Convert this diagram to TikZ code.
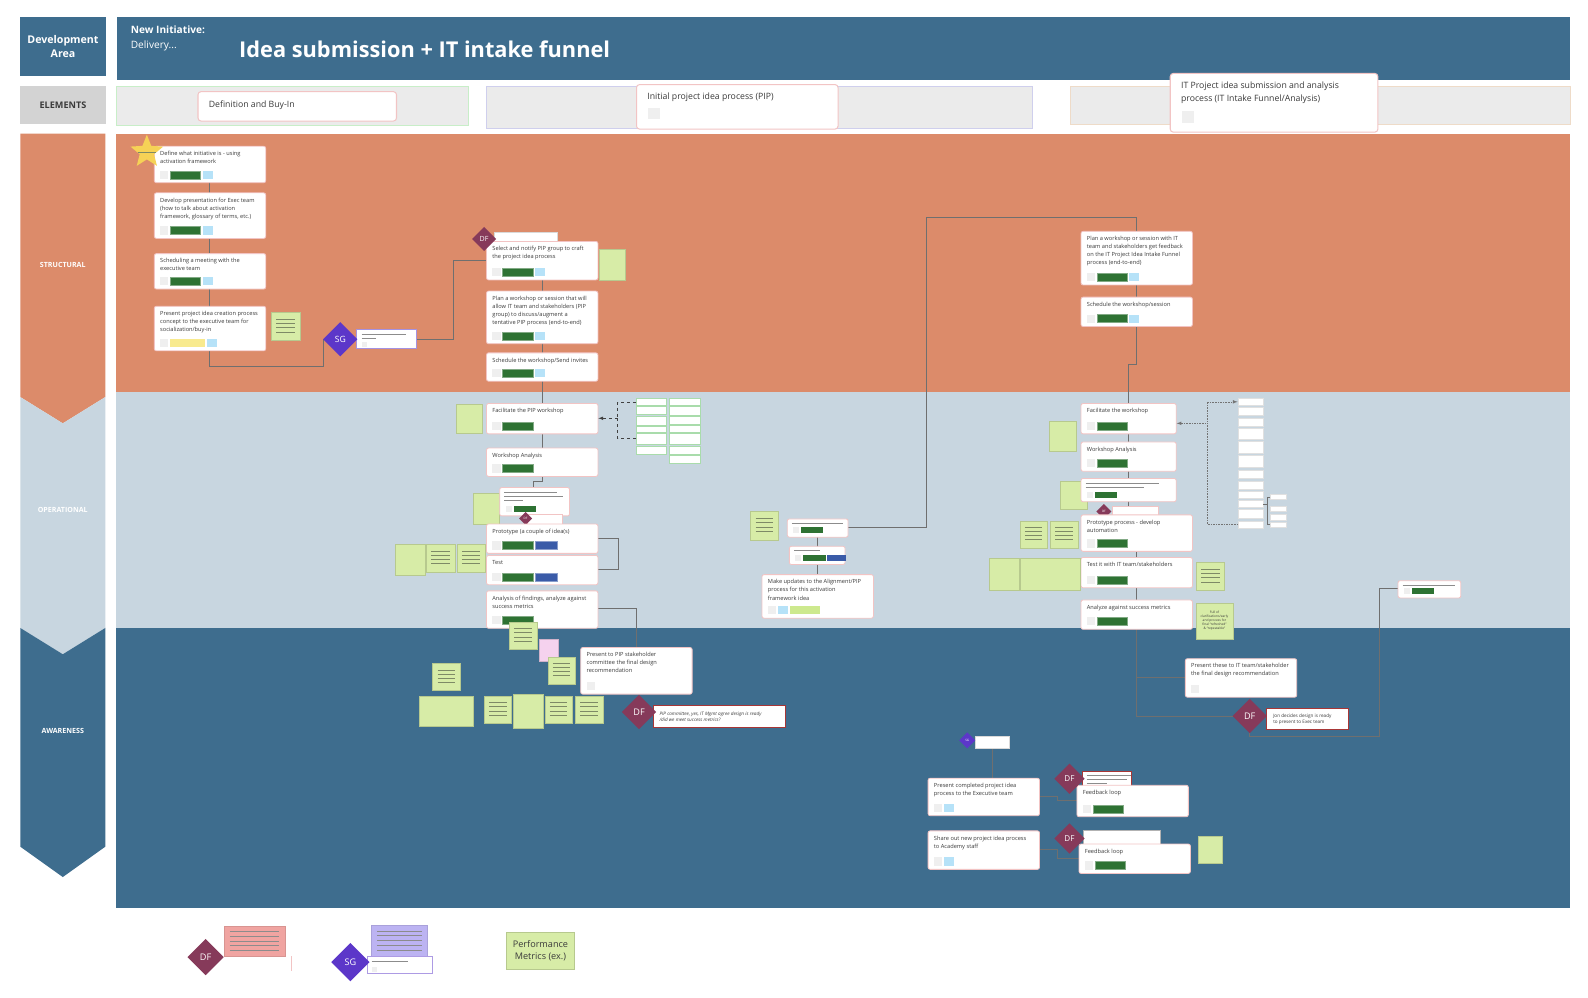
\documentclass[tikz,border=0pt]{standalone}
\usepackage{fontspec}
\setmainfont{Open Sans}
\usetikzlibrary{positioning,shapes.geometric,calc}

\definecolor{LaneBlue}{HTML}{3E6D8E}
\definecolor{LaneOrange}{HTML}{DC8B6A}
\definecolor{LaneMist}{HTML}{C8D6E0}
\definecolor{HeadGray}{HTML}{D3D3D3}
\definecolor{StripGray}{HTML}{EBEBEB}
\definecolor{CardEdge}{HTML}{F2C4C4}
\definecolor{CardInk}{HTML}{3A3A3A}
\definecolor{TagGray}{HTML}{EFEFEF}
\definecolor{TagGreen}{HTML}{2E7233}
\definecolor{TagSky}{HTML}{B6E2F8}
\definecolor{TagNavy}{HTML}{3A5BA8}
\definecolor{TagYellow}{HTML}{F8EA8E}
\definecolor{TagLime}{HTML}{CDE98E}
\definecolor{NoteGreen}{HTML}{D7ECA7}
\definecolor{NoteInk}{HTML}{7E8A66}
\definecolor{NotePink}{HTML}{F5D2EE}
\definecolor{NoteRed}{HTML}{F0A4A1}
\definecolor{NoteLilac}{HTML}{BCB3F2}
\definecolor{DFMaroon}{HTML}{863A5A}
\definecolor{DFRed}{HTML}{A83636}
\definecolor{SGPurple}{HTML}{5C37C9}
\definecolor{StarYellow}{HTML}{F6D256}
\definecolor{LinkGray}{HTML}{6F6F6F}
\definecolor{CellEdge}{HTML}{A9DCAB}

\tikzset{
  headbox/.style={anchor=north west, inner sep=0pt, align=center},
  strip/.style={anchor=north west, inner sep=0pt, fill=StripGray, line width=0.6pt},
  ecard/.style={anchor=north west, inner sep=0pt, fill=white, draw=CardEdge, line width=1pt, rounded corners=3pt},
  etext/.style={inner sep=0pt, font=\fontsize{8.6}{12}\selectfont, text=CardInk, align=left},
  lanelabel/.style={text=white, font=\fontsize{7}{8}\selectfont\bfseries},
  card/.style={draw=CardEdge, fill=white, rounded corners=2pt, line width=0.8pt, anchor=north west, inner sep=0pt},
  cardtext/.style={anchor=north west, inner sep=0pt, font=\fontsize{5.6}{8}\selectfont, text=CardInk, align=left},
  cardline/.style={draw=black!45, line width=0.9pt},
  tab/.style={anchor=north west, inner sep=0pt, fill=white, draw=black!15, line width=0.6pt},
  tgray/.style={fill=TagGray, minimum width=8pt, minimum height=8pt, inner sep=0pt},
  tgreen/.style={fill=TagGreen, draw=TagGreen!60!white, line width=0.4pt, minimum width=30pt, minimum height=8pt, inner sep=0pt},
  tsky/.style={fill=TagSky, minimum width=10pt, minimum height=8pt, inner sep=0pt},
  tnavy/.style={fill=TagNavy, draw=TagNavy!60!white, line width=0.4pt, minimum width=22pt, minimum height=8pt, inner sep=0pt},
  tyellow/.style={fill=TagYellow, minimum width=34pt, minimum height=8pt, inner sep=0pt},
  tlime/.style={fill=TagLime, minimum width=30pt, minimum height=8pt, inner sep=0pt},
  sgray/.style={fill=TagGray, minimum width=6pt, minimum height=6pt, inner sep=0pt},
  sgreen/.style={fill=TagGreen, minimum width=22pt, minimum height=6pt, inner sep=0pt},
  snavy/.style={fill=TagNavy, minimum width=18pt, minimum height=6pt, inner sep=0pt},
  note/.style={fill=NoteGreen, draw=NoteGreen!85!black, line width=0.3pt, anchor=north west, inner sep=0pt},
  noteline/.style={draw=NoteInk, line width=0.9pt},
  link/.style={draw=LinkGray, line width=0.6pt},
  dashlink/.style={draw=black!75, line width=0.6pt, dashed},
  dotlink/.style={draw=black!55, line width=0.6pt, densely dotted},
  cell/.style={draw=CellEdge, fill=white, anchor=north west, inner sep=0pt, line width=0.5pt},
  dfmark/.style={diamond, aspect=1, fill=DFMaroon, text=white, inner sep=0pt, font=\fontsize{9}{9}\selectfont},
  sgmark/.style={diamond, aspect=1, fill=SGPurple, text=white, inner sep=0pt, font=\fontsize{8.5}{9}\selectfont},
}

% card with its text in the upper left corner
\newcommand{\card}[6]{%
  \node[card, minimum width=#4pt, minimum height=#5pt] (#1) at (#2,#3) {};
  \node[cardtext] (#1-txt) at ([xshift=6pt,yshift=-5pt]#1.north west) {#6};
}
% row of small coloured tags at the foot of a card
\newcommand{\cardtags}[2]{%
  \foreach \tagstyle [count=\k] in {#2} {%
    \ifnum\k=1
      \node[\tagstyle, anchor=south west] (#1-t1) at ([xshift=6pt,yshift=4pt]#1.south west) {};
    \else
      \pgfmathtruncatemacro{\prevtag}{\k-1}
      \node[\tagstyle, right=1.5pt of #1-t\prevtag] (#1-t\k) {};
    \fi
  }%
}
% grey placeholder strokes instead of text
\newcommand{\cardlines}[2]{%
  \foreach \len [count=\k] in {#2}
    \draw[cardline] ([xshift=5pt,yshift={-(1+4*\k)*1pt}]#1.north west) -- ++(\len,0);
}
\newcommand{\plainnote}[5]{%
  \node[note, minimum width=#4pt, minimum height=#5pt] (#1) at (#2,#3) {};
}
\newcommand{\linednote}[5]{%
  \node[note, minimum width=#4pt, minimum height=#5pt] (#1) at (#2,#3) {};
  \foreach \f in {0.25,0.4,0.55,0.7}
    \draw[noteline] ($(#1.north west)!\f!(#1.south west)+(5,0)$) -- ($(#1.north east)!\f!(#1.south east)+(-5,0)$);
}

\begin{document}
\begin{tikzpicture}[x=1pt,y=-1pt]
  \useasboundingbox[fill=white] (0,0) rectangle (1568,985);

  % header
  \node[headbox, fill=LaneBlue, text=white, minimum width=84pt, minimum height=58pt,
    font=\fontsize{10.5}{13.5}\selectfont\bfseries] (devarea) at (20,17) {Development\\Area};
  \node[headbox, fill=LaneBlue, minimum width=1435pt, minimum height=62pt] (titlebar) at (115,17) {};
  \node[anchor=north west, inner sep=0pt, text=white, align=left,
    font=\fontsize{10}{15}\selectfont] (initiative) at (129,25) {\textbf{New Initiative:}\\Delivery...};
  \node[anchor=west, inner sep=0pt, text=white, font=\fontsize{21.5}{24}\selectfont\bfseries]
    (maintitle) at (236,49) {Idea submission + IT intake funnel};

  \node[headbox, fill=HeadGray, text=CardInk, minimum width=84pt, minimum height=37pt,
    font=\fontsize{9}{10}\selectfont\bfseries] (elements) at (20,85) {ELEMENTS};
  \node[strip, draw=green!15!StripGray, minimum width=347pt, minimum height=38pt] (strip1) at (115,85) {};
  \node[strip, draw=blue!12!StripGray, minimum width=539pt, minimum height=41pt] (strip2) at (480,85) {};
  \node[strip, draw=orange!15!StripGray, minimum width=493pt, minimum height=37pt] (strip3) at (1057,85) {};

  \node[ecard, minimum width=196pt, minimum height=29pt] (phase1) at (195,90) {};
  \node[etext, anchor=west] at (206,104) {Definition and Buy-In};
  \node[ecard, minimum width=199pt, minimum height=44pt] (phase2) at (628,83) {};
  \node[etext, anchor=north west] at (639,92) {Initial project idea process (PIP)};
  \node[tgray, anchor=north west, minimum width=11pt, minimum height=11pt] at (640,106) {};
  \node[ecard, minimum width=205pt, minimum height=58pt] (phase3) at (1155,72) {};
  \node[etext, anchor=north west] at (1166,81) {IT Project idea submission and analysis\\process (IT Intake Funnel/Analysis)};
  \node[tgray, anchor=north west, minimum width=12pt, minimum height=12pt] at (1167,109) {};

  % lanes
  \fill[LaneOrange] (115,132) rectangle (1550,387);
  \fill[LaneMist] (115,387) rectangle (1550,620);
  \fill[LaneBlue] (115,620) rectangle (1550,897);
  \fill[LaneOrange] (20,132) -- (104,132) -- (104,392) -- (62,418) -- (20,392) -- cycle;
  \fill[LaneMist] (20,392) -- (62,418) -- (104,392) -- (104,620) -- (62,646) -- (20,620) -- cycle;
  \fill[LaneBlue] (20,620) -- (62,646) -- (104,620) -- (104,836) -- (62,866) -- (20,836) -- cycle;
  \node[lanelabel] (structural) at (62,262) {STRUCTURAL};
  \node[lanelabel] (operational) at (62,504) {OPERATIONAL};
  \node[lanelabel] (awareness) at (62,722) {AWARENESS};

  % connectors first, so the cards sit on top of them
  \draw[link] (207,180) -- (207,362) -| (319,335);
  \draw[link] (411,335) -- (448,335) |- (480,257);
  \draw[link] (535,276) -- (535,475) -| (527,481);
  \draw[link] (535,509) -- (535,517);
  \draw[link] (590,532) -- (611,532) |- (590,562);
  \draw[link] (590,601) -| (628,639);
  \draw[link] (807,530) -- (807,567);
  \draw[link] (837,521) -| (915,215) -| (1122,228);
  \draw[link] (1122,281) -- (1122,360) -| (1114,398);
  \draw[link] (1114,428) -- (1114,500) -| (1122,508);
  \draw[link] (1122,544) -- (1122,592);
  \draw[link] (1122,621) |- (1170,669);
  \draw[link] (1122,621) |- (1217,707);
  \draw[link] (1234,724) -- (1234,727) -| (1362,650) |- (1380,581);
  \draw[link] (980,739) -- (980,768);
  \draw[link] (1026,786) -- (1044,786) |- (1063,790);
  \draw[link] (1026,839) -- (1044,839) |- (1065,847);

  % definition and buy-in
  \card{c1}{152}{144}{110}{36}{Define what initiative is - using\\activation framework}
  \cardtags{c1}{tgray,tgreen,tsky}
  \node[star, star points=5, star point ratio=2.3, fill=StarYellow, minimum size=34pt, inner sep=0pt] (star) at (145,150) {};
  \draw[noteline] ([xshift=-9pt,yshift=-1pt]star.center) -- ([xshift=9pt,yshift=-1pt]star.center);
  \card{c2}{152}{190}{110}{45}{Develop presentation for Exec team\\(how to talk about activation\\framework, glossary of terms, etc.)}
  \cardtags{c2}{tgray,tgreen,tsky}
  \card{c3}{152}{250}{110}{35}{Scheduling a meeting with the\\executive team}
  \cardtags{c3}{tgray,tgreen,tsky}
  \card{c4}{152}{302}{110}{44}{Present project idea creation process\\concept to the executive team for\\socialization/buy-in}
  \cardtags{c4}{tgray,tyellow,tsky}
  \linednote{n1}{268}{308}{28}{28}

  \node[tab, draw=SGPurple!55, minimum width=59pt, minimum height=19pt] (sgcard) at (352,325) {};
  \cardlines{sgcard}{44,14}
  \node[tgray, anchor=south west, minimum width=5pt, minimum height=5pt] at ([xshift=5pt,yshift=2pt]sgcard.south west) {};
  \node[sgmark, minimum size=34pt] (sg1) at (336,335) {SG};

  % initial project idea process
  \node[tab, minimum width=62pt, minimum height=12pt] (dftabA) at (488,229) {};
  \card{c5}{480}{238}{110}{38}{Select and notify PIP group to craft\\the project idea process}
  \cardtags{c5}{tgray,tgreen,tsky}
  \node[dfmark, minimum size=24pt, font=\fontsize{7}{7}\selectfont] (dfA) at (478,236) {DF};
  \plainnote{n2}{591}{246}{26}{30}
  \card{c6}{480}{287}{110}{52}{Plan a workshop or session that will\\allow IT team and stakeholders (PIP\\group) to discuss/augment a\\tentative PIP process (end-to-end)}
  \cardtags{c6}{tgray,tgreen,tsky}
  \card{c7}{480}{348}{110}{28}{Schedule the workshop/Send invites}
  \cardtags{c7}{tgray,tgreen,tsky}
  \card{c8}{480}{398}{110}{30}{Facilitate the PIP workshop}
  \cardtags{c8}{tgray,tgreen}
  \plainnote{n3}{450}{399}{26}{29}
  \card{c9}{480}{442}{110}{28}{Workshop Analysis}
  \cardtags{c9}{tgray,tgreen}
  \plainnote{n4}{467}{487}{26}{30}
  \node[card, minimum width=69pt, minimum height=28pt] (c10) at (493,481) {};
  \cardlines{c10}{52,58,18}
  \cardtags{c10}{sgray,sgreen}
  \node[tab, draw=CardEdge, minimum width=35pt, minimum height=9pt] (dftabB) at (520,508) {};
  \node[dfmark, minimum size=13pt, font=\fontsize{3}{3}\selectfont] (dfB) at (519,512) {DF};
  \card{c11}{480}{517}{110}{29}{Prototype (a couple of idea(s)}
  \cardtags{c11}{tgray,tgreen,tnavy}
  \card{c12}{480}{548}{110}{29}{Test}
  \cardtags{c12}{tgray,tgreen,tnavy}
  \plainnote{n5}{390}{537}{30}{31}
  \linednote{n6}{421}{537}{28}{28}
  \linednote{n7}{451}{537}{28}{28}
  \card{c13}{480}{583}{110}{37}{Analysis of findings, analyze against\\success metrics}
  \cardtags{c13}{tgray,tgreen}

  % workshop matrix
  \foreach \top/\h [count=\k] in {393/7,401/8,411/9,421/6,428/10,440/8}
    \node[cell, minimum width=30pt, minimum height=\h pt] (pa\k) at (628,\top) {};
  \foreach \top/\h [count=\k] in {393/7,401/9,411/8,420/7,428/10,440/8,449/8}
    \node[cell, minimum width=30pt, minimum height=\h pt] (pb\k) at (661,\top) {};
  \coordinate (pj) at (610,413);
  \draw[dashlink] (pa1.west) -| (pj);
  \draw[dashlink] (pa5.west) -| (pj);
  \draw[dashlink, -latex] (pj) -- (c8.east |- pj);

  % awareness, PIP side
  \linednote{n8}{503}{614}{27}{27}
  \node[note, fill=NotePink, draw=NotePink!85!black, minimum width=19pt, minimum height=22pt] (n9) at (532,631) {};
  \linednote{n10}{541}{649}{27}{26}
  \linednote{n11}{427}{655}{27}{26}
  \plainnote{n12}{414}{687}{53}{30}
  \linednote{n13}{478}{687}{27}{27}
  \plainnote{n14}{507}{685}{29}{34}
  \linednote{n15}{538}{687}{27}{27}
  \linednote{n16}{568}{687}{27}{27}
  \card{c14}{573}{639}{110}{46}{Present to PIP stakeholder\\committee the final design\\recommendation}
  \cardtags{c14}{tgray}
  \node[tab, draw=DFRed, line width=0.9pt, minimum width=130pt, minimum height=22pt] (dfnote1) at (645,696) {};
  \node[cardtext, font=\fontsize{4.6}{6.2}\selectfont\itshape, anchor=west] at ([xshift=6pt]dfnote1.west) {PIP committee, yes, IT Mgmt agree design is ready\\/did we meet success metrics?};
  \node[dfmark, minimum size=34pt] (df1) at (631,703) {DF};

  % alignment updates
  \linednote{n17}{741}{505}{27}{28}
  \node[card, minimum width=60pt, minimum height=18pt] (m1) at (777,512) {};
  \cardlines{m1}{50}
  \cardtags{m1}{sgray,sgreen}
  \node[card, minimum width=55pt, minimum height=18pt] (m2) at (779,539) {};
  \cardlines{m2}{26}
  \cardtags{m2}{sgray,sgreen,snavy}
  \card{m3}{752}{567}{110}{43}{Make updates to the Alignment/PIP\\process for this activation\\framework idea}
  \cardtags{m3}{tgray,tsky,tlime}

  % IT intake funnel
  \card{r1}{1067}{228}{110}{53}{Plan a workshop or session with IT\\team and stakeholders get feedback\\on the IT Project Idea Intake Funnel\\process (end-to-end)}
  \cardtags{r1}{tgray,tgreen,tsky}
  \card{r2}{1067}{293}{110}{29}{Schedule the workshop/session}
  \cardtags{r2}{tgray,tgreen,tsky}
  \card{r3}{1067}{398}{94}{30}{Facilitate the workshop}
  \cardtags{r3}{tgray,tgreen}
  \plainnote{n18}{1036}{416}{26}{29}
  \card{r4}{1067}{436}{94}{29}{Workshop Analysis}
  \cardtags{r4}{tgray,tgreen}
  \plainnote{n19}{1047}{475}{26}{28}
  \node[card, minimum width=94pt, minimum height=23pt] (r5) at (1067,472) {};
  \cardlines{r5}{72,58}
  \cardtags{r5}{sgray,sgreen}
  \node[tab, draw=CardEdge, minimum width=45pt, minimum height=10pt] (dftabC) at (1098,500) {};
  \node[dfmark, minimum size=15pt, font=\fontsize{3}{3}\selectfont] (dfC) at (1090,505) {DF};
  \card{r6}{1067}{508}{110}{36}{Prototype process - develop\\automation}
  \cardtags{r6}{tgray,tgreen}
  \linednote{n20}{1007}{514}{27}{27}
  \linednote{n21}{1037}{514}{27}{27}
  \card{r7}{1067}{550}{110}{30}{Test it with IT team/stakeholders}
  \cardtags{r7}{tgray,tgreen}
  \plainnote{n22}{977}{551}{29}{32}
  \plainnote{n23}{1007}{551}{59}{32}
  \linednote{n24}{1181}{555}{28}{28}
  \card{r8}{1067}{592}{110}{29}{Analyze against success metrics}
  \cardtags{r8}{tgray,tgreen}
  \node[note, minimum width=36pt, minimum height=36pt, align=center, text=CardInk,
    font=\fontsize{3.2}{4}\selectfont] (n25) at (1181,595) {Full of\\clarifications/early\\and process for\\final ``refreshed''\\\& ``repeatable''};
  \card{r9}{1170}{650}{110}{38}{Present these to IT team/stakeholder\\the final design recommendation}
  \cardtags{r9}{tgray}
  \node[tab, draw=DFRed, line width=0.9pt, minimum width=81pt, minimum height=21pt] (dfnote2) at (1250,699) {};
  \node[cardtext, font=\fontsize{4.6}{6.2}\selectfont, anchor=west] at ([xshift=7pt]dfnote2.west) {Jon decides design is ready\\to present to Exec team};
  \node[dfmark, minimum size=34pt] (df2) at (1234,707) {DF};
  \node[card, minimum width=62pt, minimum height=17pt] (far) at (1380,573) {};
  \cardlines{far}{52}
  \cardtags{far}{sgray,sgreen}

  % intake matrix
  \foreach \top/\h [count=\k] in {393/7,402/8,413/8,423/10,435/12,449/12,464/8,475/8,485/7,494/7,503/8,514/7}
    \node[cell, draw=black!12, minimum width=25pt, minimum height=\h pt] (rb\k) at (1222,\top) {};
  \foreach \top [count=\k] in {488,500,508,515}
    \node[cell, draw=black!12, minimum width=16pt, minimum height=5pt] (rs\k) at (1254,\top) {};
  \coordinate (rj) at (1192,418);
  \draw[dotlink, -latex] (rj) |- (rb1.west);
  \draw[dotlink] (rb12.west) -| (rj);
  \draw[dotlink, -latex] (rj) -- (r3.east |- rj);
  \draw[link, line width=0.4pt] (rb10.east) -- ++(4,0) |- (rs1.west);
  \draw[link, line width=0.4pt] (rb10.east) -- ++(4,0) |- (rs4.west);

  % executive roll-out
  \node[tab, minimum width=33pt, minimum height=12pt] (sgtab3) at (963,727) {};
  \node[sgmark, minimum size=16pt, font=\fontsize{3}{3}\selectfont] (sg3) at (955,731) {SG};
  \card{a1}{916}{768}{110}{37}{Present completed project idea\\process to the Executive team}
  \cardtags{a1}{tgray,tsky}
  \card{a2}{916}{820}{110}{38}{Share out new project idea process\\to Academy staff}
  \cardtags{a2}{tgray,tsky}
  \node[tab, draw=DFRed, line width=0.9pt, minimum width=49pt, minimum height=15pt] (dfnote3) at (1068,761) {};
  \cardlines{dfnote3}{44,40,20}
  \card{f1}{1063}{775}{110}{31}{Feedback loop}
  \cardtags{f1}{tgray,tgreen}
  \node[dfmark, minimum size=30pt, font=\fontsize{8}{8}\selectfont] (df3) at (1056,769) {DF};
  \node[tab, draw=black!30, minimum width=76pt, minimum height=14pt] (dftab4) at (1069,820) {};
  \card{f2}{1065}{833}{110}{29}{Feedback loop}
  \cardtags{f2}{tgray,tgreen}
  \node[dfmark, minimum size=30pt, font=\fontsize{8}{8}\selectfont] (df4) at (1056,828) {DF};
  \plainnote{n26}{1183}{825}{24}{27}

  % legend
  \node[note, fill=NoteRed, draw=NoteRed!90!black, minimum width=60pt, minimum height=30pt] (legred) at (221,914) {};
  \foreach \f in {0.2,0.35,0.5,0.65,0.8}
    \draw[draw=black!45, line width=0.8pt] ($(legred.north west)!\f!(legred.south west)+(6,0)$) -- ($(legred.north east)!\f!(legred.south east)+(-6,0)$);
  \draw[draw=CardEdge, line width=0.8pt] ([xshift=6pt]legred.south east) -- ++(0,14);
  \node[dfmark, minimum size=36pt, font=\fontsize{9}{9}\selectfont] (legdf) at (203,945) {DF};
  \node[note, fill=NoteLilac, draw=NoteLilac!90!black, minimum width=56pt, minimum height=31pt] (leglilac) at (366,913) {};
  \foreach \f in {0.2,0.35,0.5,0.65,0.8}
    \draw[draw=black!45, line width=0.8pt] ($(leglilac.north west)!\f!(leglilac.south west)+(6,0)$) -- ($(leglilac.north east)!\f!(leglilac.south east)+(-6,0)$);
  \node[tab, draw=SGPurple!50, line width=0.8pt, minimum width=65pt, minimum height=17pt] (legcard) at (362,944) {};
  \cardlines{legcard}{36}
  \node[tgray, anchor=south west, minimum width=5pt, minimum height=5pt] at ([xshift=5pt,yshift=2pt]legcard.south west) {};
  \node[sgmark, minimum size=38pt, font=\fontsize{9}{9}\selectfont] (legsg) at (346,950) {SG};
  \node[note, minimum width=67pt, minimum height=37pt, align=center, text=CardInk,
    font=\fontsize{9}{11.5}\selectfont] (legperf) at (500,920) {Performance\\Metrics (ex.)};
\end{tikzpicture}
\end{document}
